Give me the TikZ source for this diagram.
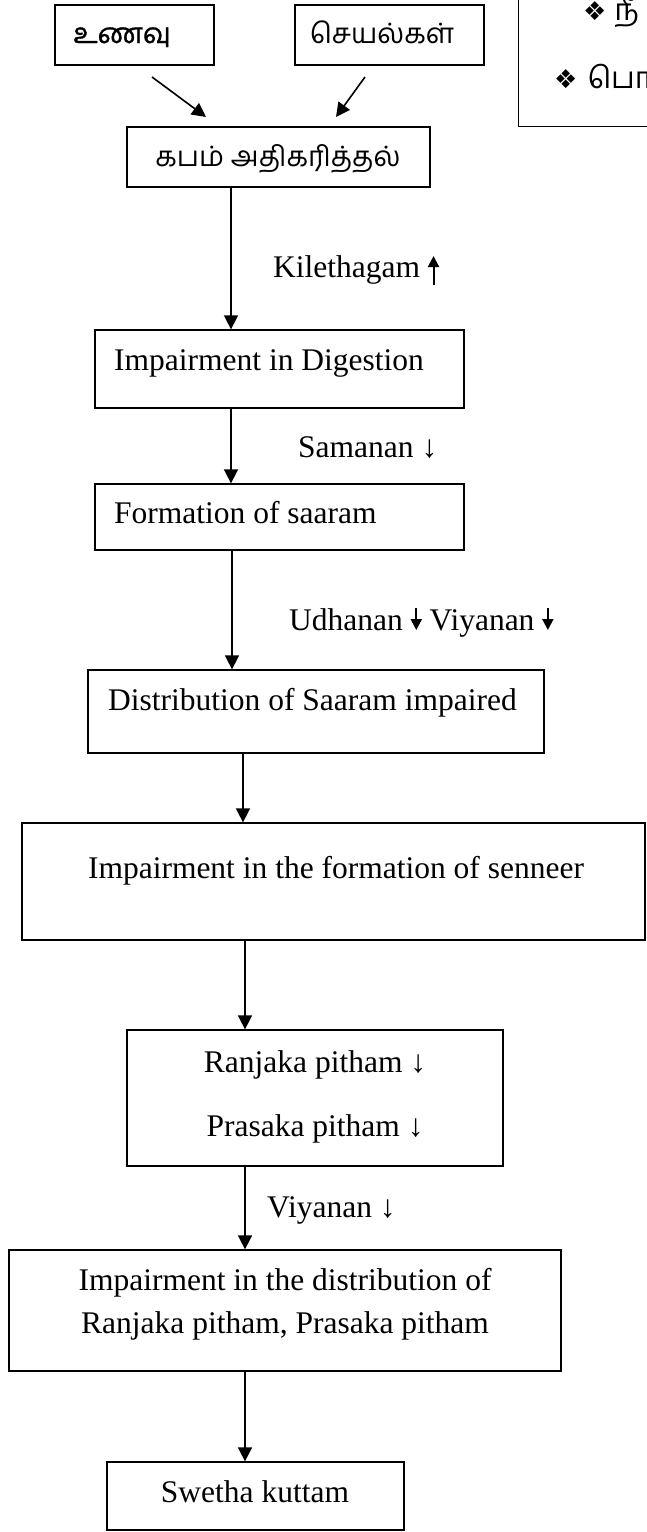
\documentclass[tikz,border=0pt]{standalone}
\usepackage{fontspec}
\setmainfont{Liberation Serif}
\newfontfamily\tamilfont[Script=Tamil]{Hind Madurai}
\newfontfamily\tamilbold[Script=Tamil, FakeBold=1.2]{Hind Madurai}
\newfontfamily\symfont{DejaVu Sans}
\usetikzlibrary{arrows.meta}

\newcommand{\fatup}{\tikz[baseline=0pt]\draw[line width=2pt,-{Triangle[length=11pt,width=11pt]}] (0pt,-8pt) -- (0pt,21pt);}
\newcommand{\fatdown}{\tikz[baseline=0pt]\draw[line width=2pt,-{Triangle[length=11pt,width=11pt]}] (0pt,22pt) -- (0pt,0pt);}

\begin{document}
\begin{tikzpicture}[x=1pt, y=-1pt, font=\fontsize{31.5}{38}\selectfont,
    box/.style={draw, line width=1.3pt, inner sep=0pt},
    ta/.style={font=\tamilfont\fontsize{28}{32}\selectfont, inner sep=0pt, anchor=base},
    lbl/.style={inner sep=0pt, anchor=base west},
    mid/.style={inner sep=0pt, anchor=base},
    flow/.style={line width=1.6pt, -{Triangle[length=14pt, width=14pt]}}]
    \useasboundingbox (0,0) rectangle (647,1532);

    % the two causes and the result
    \node[box, minimum width=159, minimum height=60] (unavu) at (134.5,35) {};
    \node[box, minimum width=189, minimum height=60] (seyal) at (389.5,35) {};
    \node[box, minimum width=303, minimum height=60] (kabam) at (278.5,157) {};
    \node[ta, font=\tamilbold\fontsize{28}{32}\selectfont] (unavuT) at (122,43) {உணவு};
    \node[ta] (seyalT) at (382,43) {செயல்கள்};
    \node[ta] (kabamT) at (278,166) {கபம் அதிகரித்தல்};

    % box cut off at the top right
    \node[box, minimum width=200, minimum height=160, anchor=south west] (info) at (518,127) {};
    \node[lbl] (info1) at (583,20) {{\symfont\fontsize{26}{28}\selectfont ❖}\hspace{8pt}{\tamilfont\fontsize{30}{32}\selectfont நீ}};
    \node[lbl] (info2) at (554,88) {{\symfont\fontsize{26}{28}\selectfont ❖}\hspace{10pt}{\tamilfont\fontsize{30}{32}\selectfont பொ}};

    \coordinate (u1) at (152,77);
    \coordinate (u2) at (206,117);
    \coordinate (s1) at (365,77);
    \coordinate (s2) at (336,117);
    \draw[flow] (u1) -- (u2);
    \draw[flow] (s1) -- (s2);

    % main chain
    \node[box, minimum width=369, minimum height=78] (digest) at (279.5,369) {};
    \node[lbl] (digestT) at (114,370) {Impairment in Digestion};
    \node[lbl] (kile) at (273,277) {Kilethagam \fatup};
    \draw[flow] (kabam.south -| 231,0) -- (digest.north -| 231,0);

    \node[box, minimum width=369, minimum height=66] (saaram) at (279.5,517) {};
    \node[lbl] (saaramT) at (114,523) {Formation of saaram};
    \node[lbl] (samanan) at (298,457) {Samanan ↓};
    \draw[flow] (digest.south -| 231,0) -- (saaram.north -| 231,0);

    \node[box, minimum width=456, minimum height=83] (distrib) at (316,711.5) {};
    \node[lbl] (distribT) at (108,710) {Distribution of Saaram impaired};
    \node[lbl] (udhanan) at (289,630) {Udhanan \fatdown{} Viyanan \fatdown};
    \draw[flow] (saaram.south -| 232,0) -- (distrib.north -| 232,0);

    \node[box, minimum width=623, minimum height=117] (senneer) at (333.5,881.5) {};
    \node[mid] (senneerT) at (336,878) {Impairment in the formation of senneer};
    \draw[flow] (distrib.south -| 243,0) -- (senneer.north -| 243,0);

    \node[box, minimum width=376, minimum height=136] (pitham) at (315,1098) {};
    \node[mid] (ranjaka) at (315,1072) {Ranjaka pitham ↓};
    \node[mid] (prasaka) at (315,1136) {Prasaka pitham ↓};
    \draw[flow] (senneer.south -| 245,0) -- (pitham.north -| 245,0);

    \node[box, minimum width=552, minimum height=121] (pdist) at (285,1310.5) {};
    \node[mid] (pdistA) at (285,1290) {Impairment in the distribution of};
    \node[mid] (pdistB) at (285,1333) {Ranjaka pitham, Prasaka pitham};
    \node[lbl] (viyanan) at (267,1217) {Viyanan ↓};
    \draw[flow] (pitham.south -| 245,0) -- (pdist.north -| 245,0);

    \node[box, minimum width=297, minimum height=68] (swetha) at (255.5,1496) {};
    \node[mid] (swethaT) at (255,1502) {Swetha kuttam};
    \draw[flow] (pdist.south -| 245,0) -- (swetha.north -| 245,0);

\end{tikzpicture}
\end{document}
